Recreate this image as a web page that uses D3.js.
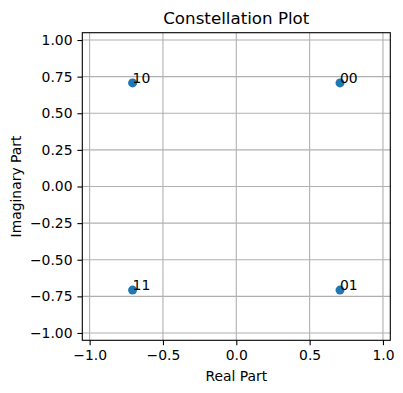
<!DOCTYPE html>
<html><head><meta charset="utf-8">
<script src="https://cdn.jsdelivr.net/npm/d3@7"></script>
<style>body{margin:0;background:#fff}svg{display:block;font-family:"DejaVu Sans",sans-serif}</style>
</head><body>
<script>
const labels = ["00","01","10","11"];
const realParts = [0.7071, 0.7071, -0.7071, -0.7071];
const imagParts = [0.7071, -0.7071, 0.7071, -0.7071];
const xTicks = [-1.0, -0.5, 0.0, 0.5, 1.0];
const yTicks = [-1.0, -0.75, -0.5, -0.25, 0.0, 0.25, 0.5, 0.75, 1.0];
const xDomain = [-1.05, 1.05];
const yDomain = [-1.05, 1.05];

const W = 403, H = 393;
const m = {left: 82.3, right: 403 - 390.3, top: 32.7, bottom: 393 - 340.3};
const svg = d3.select("body").append("svg").attr("width", W).attr("height", H);
const x = d3.scaleLinear().domain(xDomain).range([m.left, W - m.right]);
const y = d3.scaleLinear().domain(yDomain).range([H - m.bottom, m.top]);
const fmtMinus = s => s.replace("-", "\u2212");

const g = svg.append("g");
// grid
g.selectAll(".gx").data(xTicks).join("line")
  .attr("x1", d => x(d)).attr("x2", d => x(d)).attr("y1", m.top).attr("y2", H - m.bottom)
  .attr("stroke", "#b0b0b0").attr("stroke-width", 1.1);
g.selectAll(".gy").data(yTicks).join("line")
  .attr("y1", d => y(d)).attr("y2", d => y(d)).attr("x1", m.left).attr("x2", W - m.right)
  .attr("stroke", "#b0b0b0").attr("stroke-width", 1.1);

// axes
const xAxis = d3.axisBottom(x).tickValues(xTicks).tickSize(4.9).tickPadding(4.9)
  .tickFormat(d => fmtMinus(d3.format(".1f")(d)));
const yAxis = d3.axisLeft(y).tickValues(yTicks).tickSize(4.9).tickPadding(4.9)
  .tickFormat(d => fmtMinus(d3.format(".2f")(d)));
const ax = svg.append("g").attr("transform", `translate(0,${H - m.bottom})`).call(xAxis);
const ay = svg.append("g").attr("transform", `translate(${m.left},0)`).call(yAxis);
[ax, ay].forEach(a => {
  a.select(".domain").remove();
  a.selectAll(".tick line").attr("stroke", "#000").attr("stroke-width", 1.1);
  a.selectAll(".tick text").attr("font-size", 13.9).attr("fill", "#000")
   .attr("font-family", "DejaVu Sans");
});

// spines
svg.append("rect").attr("x", m.left).attr("y", m.top)
  .attr("width", W - m.left - m.right).attr("height", H - m.top - m.bottom)
  .attr("fill", "none").attr("stroke", "#000").attr("stroke-width", 1.1);

// points
const data = labels.map((l, i) => ({l, re: realParts[i], im: imagParts[i]}));
svg.selectAll("circle.pt").data(data).join("circle")
  .attr("cx", d => x(d.re)).attr("cy", d => y(d.im)).attr("r", 4.5)
  .attr("fill", "#1f77b4");
svg.selectAll("text.lbl").data(data).join("text")
  .attr("x", d => x(d.re)).attr("y", d => y(d.im))
  .attr("font-size", 13.9).attr("fill", "#000").text(d => d.l);

// title & labels
svg.append("text").attr("x", (m.left + W - m.right) / 2).attr("y", 24)
  .attr("text-anchor", "middle").attr("font-size", 16.7).text("Constellation Plot");
svg.append("text").attr("x", (m.left + W - m.right) / 2).attr("y", 381)
  .attr("text-anchor", "middle").attr("font-size", 13.9).text("Real Part");
svg.append("text").attr("transform", `translate(21,${(m.top + H - m.bottom) / 2}) rotate(-90)`)
  .attr("text-anchor", "middle").attr("font-size", 13.9).text("Imaginary Part");
</script>
</body></html>
